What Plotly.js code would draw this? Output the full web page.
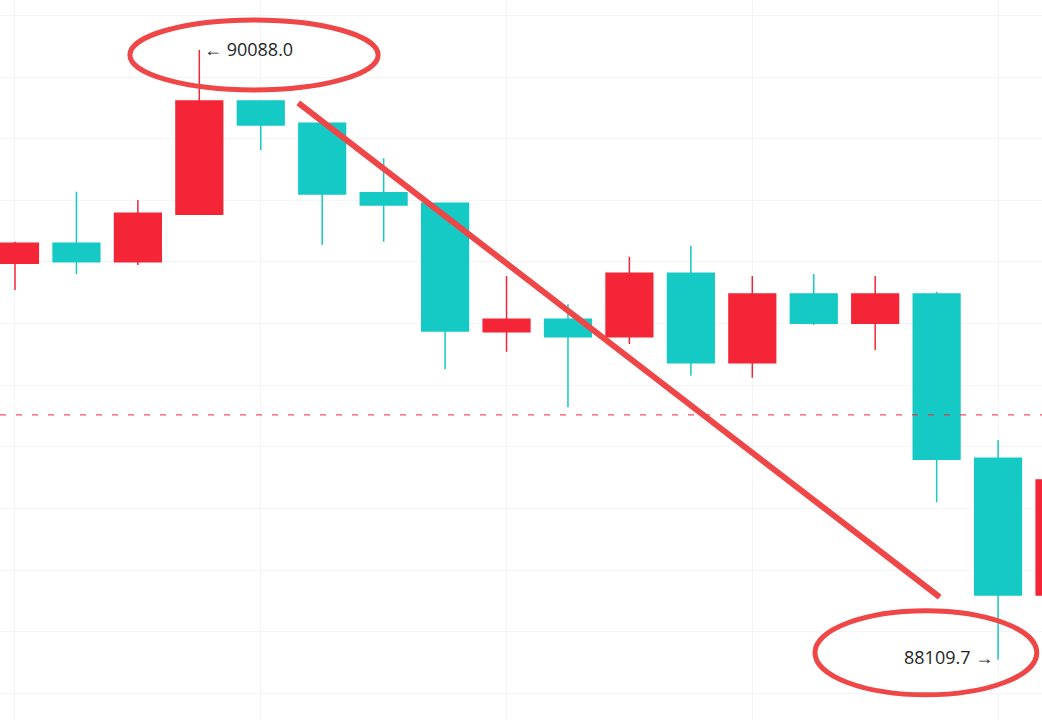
<!DOCTYPE html>
<html>
<head>
<meta charset="utf-8">
<script src="https://cdn.plot.ly/plotly-3.0.1.min.js"></script>
<style>html,body{margin:0;padding:0;background:#fff;}#chart{width:1042px;height:720px;}</style>
</head>
<body>
<div id="chart"></div>
<script>
// Candle index (time slot)
const slots = [0,1,2,3,4,5,6,7,8,9,10,11,12,13,14,15,16,17];
const openVals  = [89395.7,89460.6,89400.9,89554.7,89922.2,89849.8,89624.7,89590.3,89173.9,89214.0,89157.6,89363.3,89073.3,89296.1,89201.1,89296.1,88763.2,88319.8];
const highVals  = [89465.8,89628.0,89601.0,90088.0,89922.2,89849.8,89736.3,89590.3,89354.5,89262.7,89417.1,89452.8,89354.5,89361.0,89354.5,89303.6,88822.6,88720.0];
const lowVals   = [89309.1,89361.0,89390.2,89554.7,89763.2,89455.1,89465.8,89051.9,89109.0,88928.6,89134.0,89031.1,89024.7,89195.6,89114.5,88620.5,88109.7,88300.0];
const closeVals = [89460.6,89400.9,89557.9,89922.2,89844.3,89620.5,89584.8,89176.1,89214.0,89157.6,89363.3,89073.3,89296.1,89201.1,89296.1,88760.0,88319.8,88692.8];

const highLabel = "← 90088.0";
const lowLabel = "88109.7 →";
const highIdx = 3, highPrice = 90088.0;
const lowIdx = 16, lowPrice = 88109.7;
const currentPrice = 88904;

// Hand-drawn markup (in data units)
const trendLine = {x0: 4.61, y0: 89916, x1: 15.05, y1: 88313};
const topEllipse = {x0: 1.87, x1: 5.91, y0: 89958, y1: 90185};
const bottomEllipse = {x0: 13.02, x1: 16.63, y0: 87996, y1: 88269};

const RED = '#F42536', TEAL = '#15C9C5', MARK = '#EF4747';

const trace = {
  type: 'candlestick',
  x: slots, open: openVals, high: highVals, low: lowVals, close: closeVals,
  increasing: {line: {color: RED, width: 1.5}, fillcolor: RED},
  decreasing: {line: {color: TEAL, width: 1.5}, fillcolor: TEAL},
  whiskerwidth: 0,
  hoverinfo: 'none'
};

const layout = {
  width: 1042, height: 720,
  margin: {l: 0, r: 0, t: 0, b: 0},
  paper_bgcolor: '#ffffff', plot_bgcolor: '#ffffff',
  showlegend: false,
  boxgap: 0.24,
  boxgroupgap: 0,
  xaxis: {
    range: [-0.244, 16.715], showticklabels: false, zeroline: false,
    rangeslider: {visible: false}, tickmode: 'linear', tick0: 0, dtick: 4,
    showgrid: true, gridcolor: '#f4f5f7', gridwidth: 1, ticks: '', showline: false
  },
  yaxis: {
    range: [87914.4, 90249.8], showticklabels: false, zeroline: false,
    tickmode: 'linear', tick0: 88000, dtick: 200,
    showgrid: true, gridcolor: '#f4f5f7', gridwidth: 1, ticks: '', showline: false
  },
  shapes: [
    {type: 'line', xref: 'paper', x0: 0, x1: 1, yref: 'y', y0: currentPrice, y1: currentPrice,
     line: {color: RED, width: 1, dash: '6px,10px'}},
    {type: 'line', xref: 'x', yref: 'y', x0: trendLine.x0, y0: trendLine.y0, x1: trendLine.x1, y1: trendLine.y1,
     line: {color: MARK, width: 6}},
    {type: 'circle', xref: 'x', yref: 'y', x0: topEllipse.x0, x1: topEllipse.x1, y0: topEllipse.y0, y1: topEllipse.y1,
     line: {color: MARK, width: 5}},
    {type: 'circle', xref: 'x', yref: 'y', x0: bottomEllipse.x0, x1: bottomEllipse.x1, y0: bottomEllipse.y0, y1: bottomEllipse.y1,
     line: {color: MARK, width: 5}}
  ],
  annotations: [
    {x: highIdx, y: highPrice, xref: 'x', yref: 'y', text: highLabel, showarrow: false,
     xanchor: 'left', yanchor: 'middle', xshift: 3, yshift: 1,
     font: {family: 'Open Sans, sans-serif', size: 18, color: '#262626'}},
    {x: lowIdx, y: lowPrice, xref: 'x', yref: 'y', text: lowLabel, showarrow: false,
     xanchor: 'right', yanchor: 'middle', xshift: -3, yshift: 3,
     font: {family: 'Open Sans, sans-serif', size: 18, color: '#262626'}}
  ]
};

Plotly.newPlot('chart', [trace], layout, {staticPlot: true, displayModeBar: false});
</script>
</body>
</html>
